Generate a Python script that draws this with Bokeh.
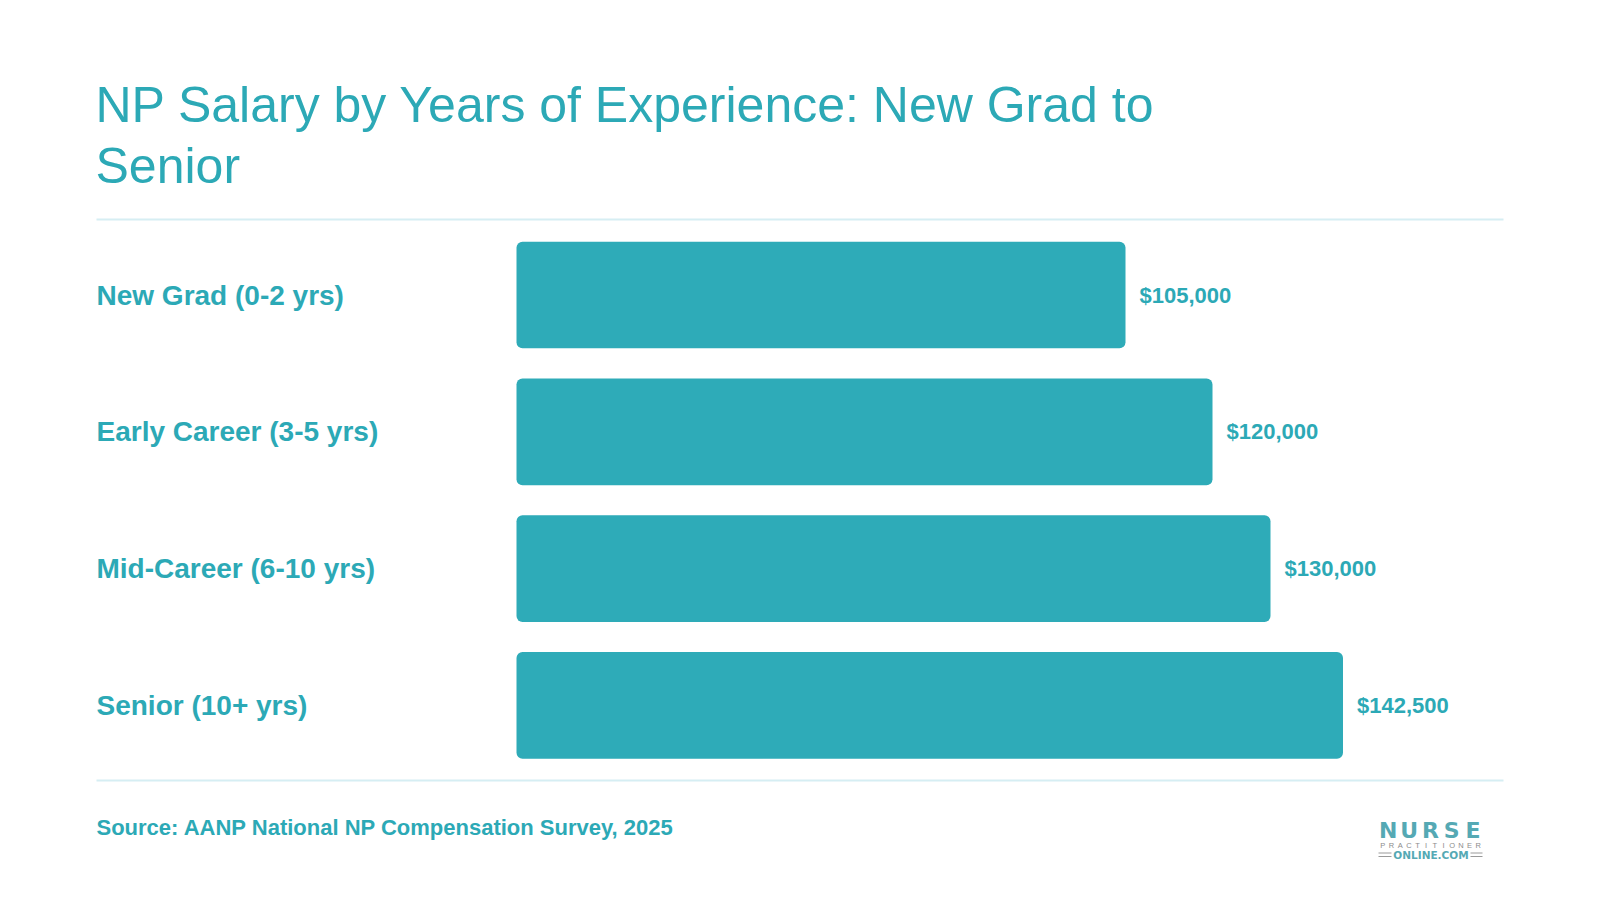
from bokeh.plotting import figure
from bokeh.models import Range1d, ColumnDataSource
from bokeh.core.properties import value
from bokeh.embed import file_html
from bokeh.resources import INLINE

# ---------------- data ----------------
categories = ["New Grad (0-2 yrs)", "Early Career (3-5 yrs)", "Mid-Career (6-10 yrs)", "Senior (10+ yrs)"]
salaries = [105000, 120000, 130000, 142500]
value_labels = ["$105,000", "$120,000", "$130,000", "$142,500"]
title_lines = ["NP Salary by Years of Experience: New Grad to", "Senior"]
source_text = "Source: AANP National NP Compensation Survey, 2025"

# ---------------- style ----------------
TEAL = "#2EABB8"
TEXT_TEAL = "#2CA9B6"
SEP = "#D6EEF3"
FONT = "Liberation Sans"
W, H = 1600, 900

# screen <-> data mapping (frame covers the whole canvas)
PX_PER_USD = 0.0058
X_ZERO = 516.0
ROW0 = 294.5
ROW_STEP = 136.8


def dx(px):
    return (px - X_ZERO) / PX_PER_USD


def dy(py):
    return (py - ROW0) / ROW_STEP


p = figure(width=W, height=H, output_backend="svg", toolbar_location=None,
           x_range=Range1d(dx(0), dx(W)), y_range=Range1d(dy(H), dy(0)),
           x_axis_type=None, y_axis_type=None, min_border=0)
p.outline_line_color = None
p.background_fill_color = "white"
p.border_fill_color = "white"
p.grid.visible = False

idx = list(range(len(categories)))
src = ColumnDataSource(dict(y=idx, right=salaries, cat=categories, lab=value_labels,
                            xl=[dx(96)] * len(idx)))

p.hbar(y="y", left=0, right="right", height=0.78, source=src,
       fill_color=TEAL, line_color=None, border_radius=6)

# category labels
p.text(x="xl", y="y", text="cat", source=src, text_font=value(FONT),
       text_font_style="bold", text_font_size="28px", text_color=TEXT_TEAL,
       text_align="left", text_baseline="middle")

# value labels
p.text(x="right", y="y", text="lab", source=src, x_offset=14, text_font=value(FONT),
       text_font_style="bold", text_font_size="22px", text_color=TEXT_TEAL,
       text_align="left", text_baseline="middle")

# title (two lines)
p.text(x=[dx(95), dx(95)], y=[dy(104), dy(165)], text=title_lines, text_font=value(FONT),
       text_font_size="50px", text_color=TEXT_TEAL, text_align="left",
       text_baseline="middle")

# separators
p.segment(x0=[dx(96), dx(96)], x1=[dx(1503), dx(1503)], y0=[dy(219), dy(780)],
          y1=[dy(219), dy(780)], line_color=SEP, line_width=2)

# source
p.text(x=[dx(96)], y=[dy(827)], text=[source_text], text_font=value(FONT),
       text_font_style="bold", text_font_size="22px", text_color=TEXT_TEAL,
       text_align="left", text_baseline="middle")

# logo
LOGO = "#55A9B4"
for word, x0, x1, mid, size, col, style, font in [
    ("NURSE", 1377, 1483, 830, "22px", LOGO, "bold", "DejaVu Sans"),
    ("PRACTITIONER", 1378, 1482, 844.5, "7.5px", "#8C8C8C", "normal", FONT),
]:
    n = len(word)
    step = (x1 - x0) / n
    xs = [dx(x0 + step * (i + 0.5)) for i in range(n)]
    p.text(x=xs, y=[dy(mid)] * n, text=list(word), text_font=value(font),
           text_font_style=style, text_font_size=size, text_color=col,
           text_align="center", text_baseline="middle")
p.text(x=[dx(1430.5)], y=[dy(854.5)], text=["ONLINE.COM"], text_font=value("DejaVu Sans"),
       text_font_style="bold", text_font_size="10.5px", text_color=LOGO,
       text_align="center", text_baseline="middle")
for yy in (852.5, 856):
    p.segment(x0=[dx(1378), dx(1470)], x1=[dx(1391), dx(1482)], y0=[dy(yy)] * 2,
              y1=[dy(yy)] * 2, line_color="#9A9A9A", line_width=1)

open("out.html", "w").write(file_html(p, INLINE))
